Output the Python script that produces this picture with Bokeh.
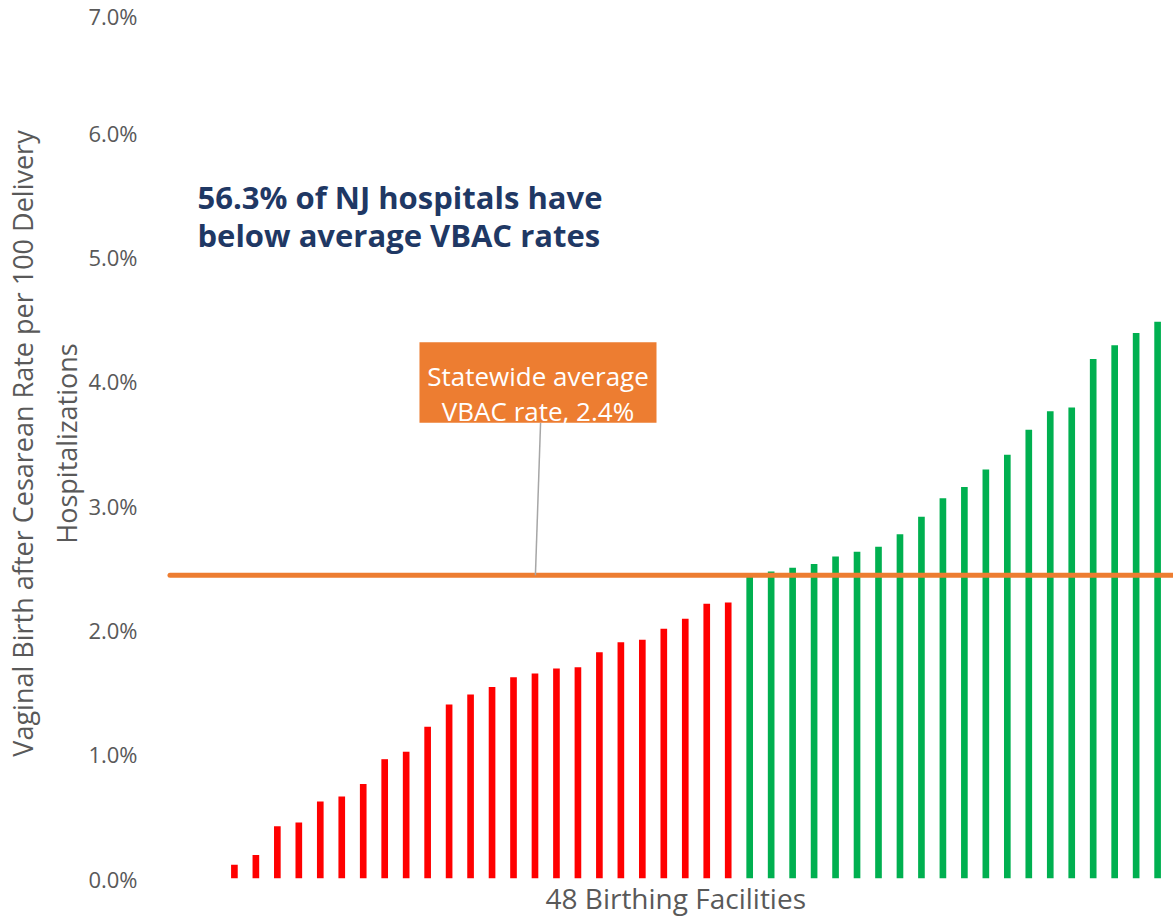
from bokeh.plotting import figure
from bokeh.models import Range1d, FixedTicker, PrintfTickFormatter, Label, BoxAnnotation, ColumnDataSource, Title
from bokeh.embed import file_html
from bokeh.resources import INLINE

# ---- data (VBAC rate per 100 delivery hospitalizations, sorted) ----
below_avg_rates = [0.0, 0.0, 0.0, 0.11, 0.19, 0.42, 0.45, 0.62, 0.66, 0.76, 0.96, 1.02,
                   1.22, 1.40, 1.48, 1.54, 1.62, 1.65, 1.69, 1.70, 1.82, 1.90, 1.92,
                   2.01, 2.09, 2.21, 2.22]
above_avg_rates = [2.45, 2.47, 2.50, 2.53, 2.59, 2.63, 2.67, 2.77, 2.91, 3.06, 3.15,
                   3.29, 3.41, 3.61, 3.76, 3.79, 4.18, 4.29, 4.39, 4.48, 4.60]
statewide_avg = 2.44
y_ticks = [0, 1, 2, 3, 4, 5, 6, 7]

rates = below_avg_rates + above_avg_rates
facility_idx = list(range(len(rates)))
colors = ["#FF0000" if r < statewide_avg else "#00B050" for r in rates]

src = ColumnDataSource(dict(x=facility_idx, top=rates, color=colors))

FONT = "Open Sans"
GRAY = "#595959"

p = figure(width=1173, height=918, output_backend="svg", toolbar_location=None,
           x_range=Range1d(-0.908, 46.74), y_range=Range1d(0, 7),
           x_axis_location=None,
           min_border_left=150, min_border_right=0, min_border_top=8, min_border_bottom=39)
p.outline_line_color = None
p.xgrid.visible = False
p.ygrid.visible = False
p.background_fill_color = "white"
p.border_fill_color = "white"

p.vbar(x="x", top="top", bottom=0, width=0.31, source=src, fill_color="color", line_color=None)

p.line(x=[facility_idx[0], facility_idx[-1]], y=[statewide_avg, statewide_avg],
       line_color="#ED7D31", line_width=5, line_cap="round")

# y axis
yax = p.yaxis[0]
yax.ticker = FixedTicker(ticks=y_ticks)
yax.formatter = PrintfTickFormatter(format="%.1f%%")
yax.axis_line_color = None
yax.major_tick_line_color = None
yax.minor_tick_line_color = None
yax.major_tick_out = 0
yax.major_tick_in = 0
yax.major_label_standoff = 13
yax.major_label_text_font = FONT
yax.major_label_text_font_size = "22px"
yax.major_label_text_color = GRAY
yax.axis_label = "Vaginal Birth after Cesarean Rate per 100 Delivery\nHospitalizations"
yax.axis_label_text_font = FONT
yax.axis_label_text_font_size = "27px"
yax.axis_label_text_font_style = "normal"
yax.axis_label_text_color = GRAY
yax.axis_label_standoff = 0

# x axis title, in the panel below the frame
p.add_layout(Title(text="48 Birthing Facilities", align="left", offset=395,
                   standoff=0, vertical_align="top",
                   text_font=FONT, text_font_size="28px", text_font_style="normal",
                   text_color=GRAY), "below")

# headline
for txt, yy in [("56.3% of NJ hospitals have", 5.48), ("below average VBAC rates", 5.18)]:
    p.add_layout(Label(x=1.28, y=yy, text=txt, text_font=FONT, text_font_style="bold",
                       text_font_size="31px", text_color="#1F3864",
                       text_align="left", text_baseline="alphabetic"))

# statewide average callout
p.add_layout(BoxAnnotation(left=11.62, right=22.66, bottom=3.666, top=4.315,
                           fill_color="#ED7D31", fill_alpha=1.0, line_color=None))
for txt, yy in [("Statewide average", 4.047), ("VBAC rate, 2.4%", 3.763)]:
    p.add_layout(Label(x=17.14, y=yy, text=txt, text_font=FONT,
                       text_font_size="26px", text_color="white",
                       text_align="center", text_baseline="alphabetic"))
p.segment(x0=[17.26], y0=[3.666], x1=[17.02], y1=[statewide_avg],
          line_color="#A6A6A6", line_width=1.5)

open("out.html", "w").write(file_html(p, INLINE))
